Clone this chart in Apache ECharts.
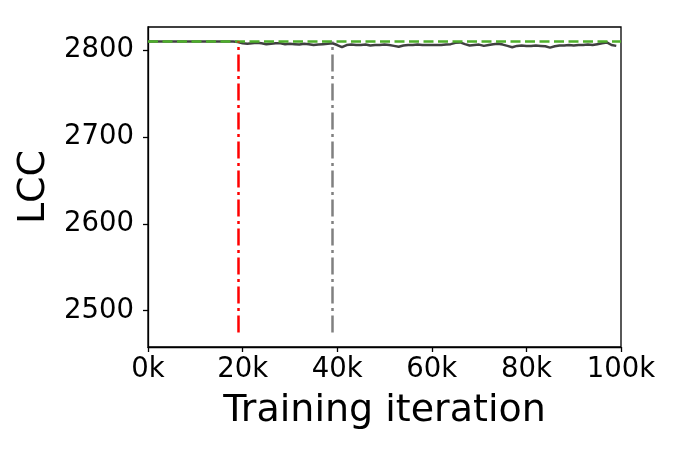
<!DOCTYPE html>
<html>
<head>
<meta charset="utf-8">
<script src="https://cdn.jsdelivr.net/npm/echarts@6/dist/echarts.min.js"></script>
<style>html,body{margin:0;padding:0;background:#fff}#c{width:676px;height:452px}</style>
</head>
<body>
<div id="c"></div>
<script>
// iterations in thousands (0k .. 99k)
const iterationsK = [0,1,2,3,4,5,6,7,8,9,10,11,12,13,14,15,16,17,18,19,20,21,22,23,24,25,26,27,28,29,30,31,32,33,34,35,36,37,38,39,40,41,42,43,44,45,46,47,48,49,50,51,52,53,54,55,56,57,58,59,60,61,62,63,64,65,66,67,68,69,70,71,72,73,74,75,76,77,78,79,80,81,82,83,84,85,86,87,88,89,90,91,92,93,94,95,96,97,98,99];
const lccValues = [2810,2810,2810,2810,2810,2810,2810,2810,2810,2810,2810,2810,2810,2810,2810,2810,2810,2810,2810,2809.5,
  2808,2807.5,2808,2808.5,2808,2807,2807.5,2808,2808,2807,
  2807.5,2807,2806.5,2807.5,2807,2806,2806.5,2807,2807.5,2808,
  2806,2803.5,2806,2806.5,2806,2806,2806.5,2805.5,2806,2806,
  2806.5,2806,2805,2804,2805.5,2806,2806,2806.5,2806,2806,
  2806,2806,2806,2806.5,2807,2808.5,2809,2807,2805.5,2806,
  2806.5,2805,2806,2807,2807.5,2806.5,2805,2803.5,2805,2805.5,
  2805,2805,2805.5,2805,2804.5,2803,2804.5,2805.5,2805.5,2806,
  2805.5,2806,2806,2806.5,2806,2807,2808,2809,2806,2805];
const referenceLCC = 2810;
const redLineK = 19;
const grayLineK = 39;
const vLineBottom = 2475;
const yTicks = [2500, 2600, 2700, 2800];
const xTicksK = [0, 20, 40, 60, 80, 100];

const lineData = iterationsK.map((k, i) => [k * 1000, lccValues[i]]);
const chart = echarts.init(document.getElementById('c'), null, {renderer: 'canvas'});
const font = 'DejaVu Sans';
chart.setOption({
  animation: false,
  backgroundColor: '#fff',
  grid: {left: 148, right: 55, top: 27, bottom: 105, show: true, borderColor: '#000', borderWidth: 1.3, backgroundColor: 'transparent'},
  xAxis: {
    type: 'value', min: 0, max: 100000, interval: 20000,
    name: 'Training iteration', nameLocation: 'middle', nameGap: 45,
    nameTextStyle: {fontFamily: font, fontSize: 38, color: '#000'},
    axisLine: {show: true, onZero: false, lineStyle: {color: '#000', width: 1.3}},
    axisTick: {show: true, length: 5, lineStyle: {color: '#000', width: 1.3}},
    axisLabel: {fontFamily: font, fontSize: 27.5, color: '#000', margin: 9,
      formatter: v => (v / 1000) + 'k'},
    splitLine: {show: false}
  },
  yAxis: {
    type: 'value', min: 2458.25, max: 2826.75,
    name: 'LCC', nameLocation: 'middle', nameGap: 90,
    nameTextStyle: {fontFamily: font, fontSize: 38, color: '#000'},
    axisLine: {show: true, onZero: false, lineStyle: {color: '#000', width: 1.3}},
    axisTick: {show: true, length: 5, customValues: yTicks, lineStyle: {color: '#000', width: 1.3}},
    axisLabel: {fontFamily: font, fontSize: 27.5, color: '#000', margin: 14, customValues: yTicks,
      formatter: v => String(v)},
    splitLine: {show: false}
  },
  series: [
    {
      type: 'line', data: lineData, showSymbol: false, symbol: 'none',
      lineStyle: {color: '#404040', width: 2.5}, z: 3,
      markLine: {
        silent: true, symbol: 'none', label: {show: false},
        data: [
          [{coord: [redLineK * 1000, vLineBottom], lineStyle: {color: '#ff0000', width: 2.5, type: [17, 4.5, 3, 4.5]}},
           {coord: [redLineK * 1000, referenceLCC]}],
          [{coord: [grayLineK * 1000, vLineBottom], lineStyle: {color: '#808080', width: 2.5, type: [17, 4.5, 3, 4.5]}},
           {coord: [grayLineK * 1000, referenceLCC]}]
        ]
      }
    },
    {
      type: 'line', data: [[0, referenceLCC], [100000, referenceLCC]], showSymbol: false, symbol: 'none',
      lineStyle: {color: '#4daf2a', width: 2.5, type: [10, 4.5]}, z: 4
    }
  ]
});
</script>
</body>
</html>
